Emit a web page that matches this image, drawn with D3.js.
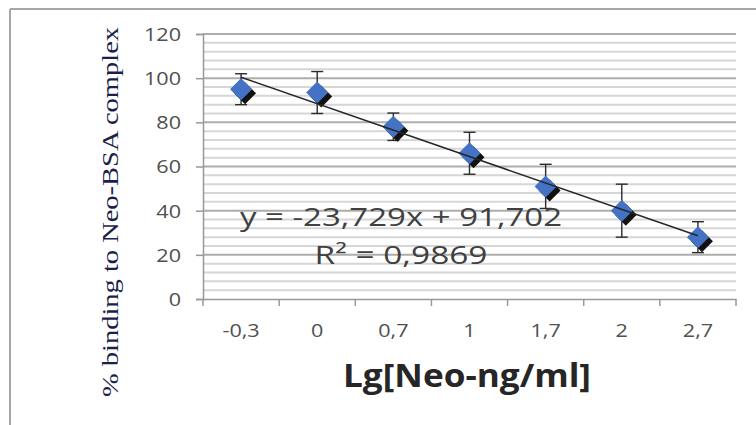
<!DOCTYPE html>
<html>
<head>
<meta charset="utf-8">
<script src="https://cdn.jsdelivr.net/npm/d3@7"></script>
<style>
  html, body { margin: 0; padding: 0; background: #fff; }
  svg { display: block; }
</style>
</head>
<body>
<svg id="chart" width="756" height="425"></svg>
<script>
// ---- data ----
const categories = ["-0,3", "0", "0,7", "1", "1,7", "2", "2,7"];
const xValues = [-0.3, 0, 0.7, 1, 1.7, 2, 2.7];
const bindingValues = [95, 93.5, 78, 66, 51, 40, 28];
const errorValues = [7, 9.5, 6.2, 9.5, 10, 12, 7];
const yTicks = [0, 20, 40, 60, 80, 100, 120];
const yMinorTicks = d3.range(0, 121, 4);
const equationText = "y = -23,729x + 91,702";
const r2Text = "R\u00B2 = 0,9869";
const xTitle = "Lg[Neo-ng/ml]";
const yTitle = "% binding to Neo-BSA complex";

// ---- layout ----
const svg = d3.select("#chart");
const plotLeft = 203, plotRight = 736, plotTop = 34, plotBottom = 299;

const x = d3.scaleBand().domain(categories).range([plotLeft, plotRight]).padding(0);
const y = d3.scaleLinear().domain([0, 120]).range([plotBottom, plotTop]);

// frame (partial border)
svg.append("line").attr("x1", 10).attr("x2", 756).attr("y1", 9).attr("y2", 9)
  .attr("stroke", "#a6a6a6").attr("stroke-width", 2);
svg.append("line").attr("x1", 10).attr("x2", 10).attr("y1", 9).attr("y2", 425)
  .attr("stroke", "#a6a6a6").attr("stroke-width", 2);

// minor gridlines
svg.append("g").selectAll("line")
  .data(yMinorTicks.filter(v => v % 20 !== 0))
  .join("line")
  .attr("x1", plotLeft).attr("x2", plotRight)
  .attr("y1", d => y(d)).attr("y2", d => y(d))
  .attr("stroke", "#d6d6d6").attr("stroke-width", 2);

// major gridlines
svg.append("g").selectAll("line")
  .data(yTicks.filter(v => v > 0))
  .join("line")
  .attr("x1", plotLeft).attr("x2", plotRight)
  .attr("y1", d => y(d)).attr("y2", d => y(d))
  .attr("stroke", "#adadad").attr("stroke-width", 2);

// y axis
const yAxis = svg.append("g").attr("transform", `translate(${plotLeft},0)`)
  .call(d3.axisLeft(y).tickValues(yTicks).tickSize(7).tickFormat(d3.format("d")));
yAxis.select(".domain").attr("stroke", "#999").attr("stroke-width", 1.5);
yAxis.selectAll(".tick line").attr("stroke", "#999").attr("stroke-width", 1.5);
yAxis.selectAll(".tick text")
  .attr("x", 0).attr("dy", "0.36em")
  .attr("transform", "translate(-22,0) scale(1.2,1)")
  .attr("fill", "#505050")
  .style("font-family", "'Open Sans', sans-serif").style("font-size", "18px");

// x axis
const xAxis = svg.append("g").attr("transform", `translate(0,${plotBottom})`)
  .call(d3.axisBottom(x).tickSize(0));
xAxis.select(".domain").attr("stroke", "#999").attr("stroke-width", 1.5);
xAxis.selectAll(".tick text")
  .attr("y", 38).attr("dy", 0)
  .attr("transform", "scale(1.2,1)")
  .attr("fill", "#505050")
  .style("font-family", "'Open Sans', sans-serif").style("font-size", "18px");
// boundary tick marks between categories
const boundaries = categories.map(c => x(c)).concat([x(categories[categories.length - 1]) + x.bandwidth()]);
svg.append("g").selectAll("line").data(boundaries).join("line")
  .attr("x1", d => d).attr("x2", d => d)
  .attr("y1", plotBottom).attr("y2", plotBottom + 7)
  .attr("stroke", "#999").attr("stroke-width", 1.5);

const cx = i => x(categories[i]) + x.bandwidth() / 2;

// error bars
const eb = svg.append("g").attr("stroke", "#2b2b2b").attr("stroke-width", 1.4);
bindingValues.forEach((v, i) => {
  const e = errorValues[i];
  eb.append("line").attr("x1", cx(i)).attr("x2", cx(i)).attr("y1", y(v + e)).attr("y2", y(v - e));
  eb.append("line").attr("x1", cx(i) - 6).attr("x2", cx(i) + 6).attr("y1", y(v + e)).attr("y2", y(v + e));
  eb.append("line").attr("x1", cx(i) - 6).attr("x2", cx(i) + 6).attr("y1", y(v - e)).attr("y2", y(v - e));
});

// diamonds with shadow
const diamond = (px, py, r) => `M${px},${py - r}L${px + r},${py}L${px},${py + r}L${px - r},${py}Z`;
const pts = svg.append("g");
bindingValues.forEach((v, i) => {
  pts.append("path").attr("d", diamond(cx(i) + 4, y(v) + 4, 11)).attr("fill", "#111");
  pts.append("path").attr("d", diamond(cx(i), y(v), 11)).attr("fill", "#4472c4");
});

// linear trendline (least squares over plotted category positions)
const idx = bindingValues.map((_, i) => i);
const mx = d3.mean(idx), my = d3.mean(bindingValues);
const slope = d3.sum(idx, i => (i - mx) * (bindingValues[i] - my)) / d3.sum(idx, i => (i - mx) ** 2);
const icpt = my - slope * mx;
const last = categories.length - 1;
svg.append("line")
  .attr("x1", cx(0)).attr("y1", y(icpt))
  .attr("x2", cx(last)).attr("y2", y(icpt + slope * last))
  .attr("stroke", "#262626").attr("stroke-width", 1.5);

// trendline label
svg.append("text").text(equationText)
  .attr("x", 401).attr("y", 226).attr("text-anchor", "middle")
  .attr("textLength", 322).attr("lengthAdjust", "spacingAndGlyphs")
  .attr("fill", "#404040")
  .style("font-family", "'Open Sans', sans-serif").style("font-size", "25px");
svg.append("text").text(r2Text)
  .attr("x", 401).attr("y", 264).attr("text-anchor", "middle")
  .attr("textLength", 173).attr("lengthAdjust", "spacingAndGlyphs")
  .attr("fill", "#404040")
  .style("font-family", "'Open Sans', sans-serif").style("font-size", "25px");

// x title
svg.append("text").text(xTitle)
  .attr("x", 467).attr("y", 387).attr("text-anchor", "middle")
  .attr("textLength", 248).attr("lengthAdjust", "spacingAndGlyphs")
  .attr("fill", "#262626")
  .style("font-family", "'Open Sans', sans-serif").style("font-weight", "bold").style("font-size", "33px");

// y title
svg.append("text").text(yTitle)
  .attr("transform", "translate(118,212) rotate(-90)")
  .attr("text-anchor", "middle")
  .attr("textLength", 370).attr("lengthAdjust", "spacingAndGlyphs")
  .attr("fill", "#1c1f4a")
  .style("font-family", "'Liberation Serif', 'DejaVu Serif', serif").style("font-size", "24px");
</script>
</body>
</html>
